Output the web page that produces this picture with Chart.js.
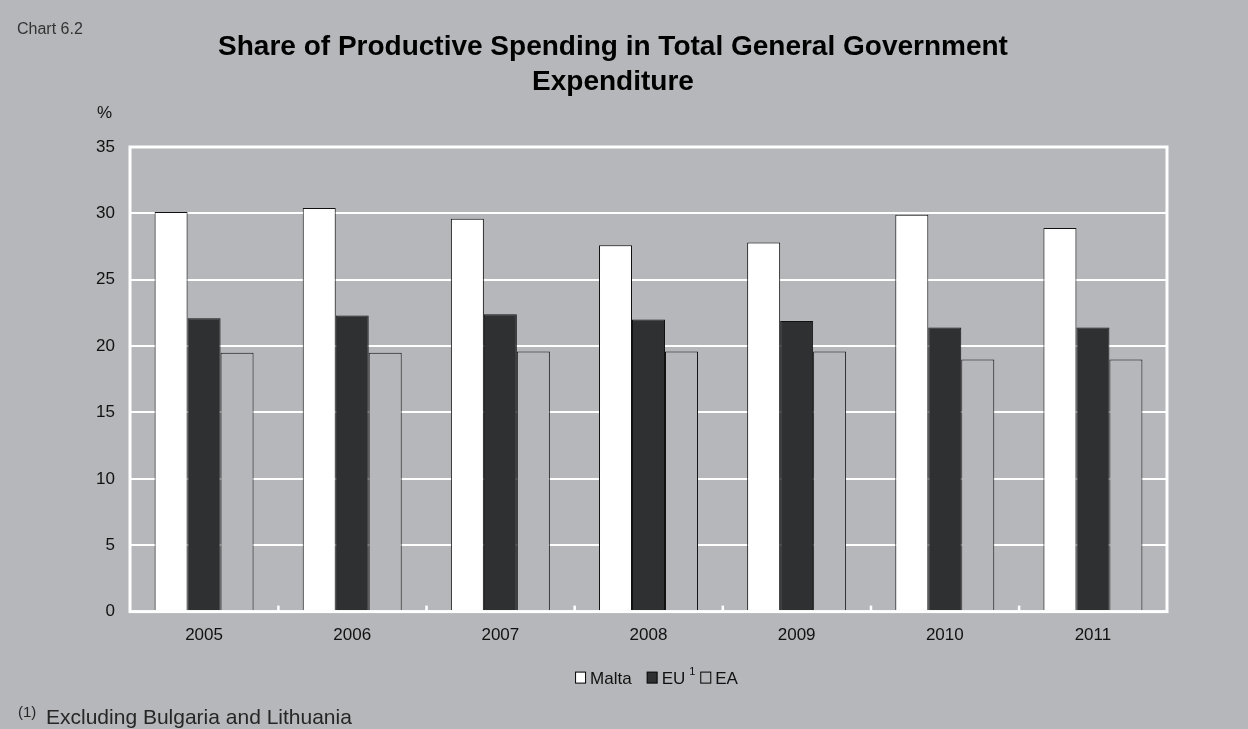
<!DOCTYPE html>
<html>
<head>
<meta charset="utf-8">
<title>Share of Productive Spending in Total General Government Expenditure</title>
<script src="https://cdn.jsdelivr.net/npm/chart.js@4/dist/chart.umd.min.js"></script>
<style>
  html, body { margin: 0; padding: 0; background: #b6b7ba; }
  #wrap { width: 1248px; height: 729px; }
</style>
</head>
<body>
<div id="wrap"><canvas id="chart" width="1248" height="729"></canvas></div>
<script>
// categories and series (% of total general government expenditure)
const years = ['2005', '2006', '2007', '2008', '2009', '2010', '2011'];
const malta = [30.1, 30.4, 29.6, 27.6, 27.8, 29.9, 28.9];
const eu    = [22.1, 22.3, 22.4, 22.0, 21.9, 21.4, 21.4];
const ea    = [19.5, 19.5, 19.6, 19.6, 19.6, 19.0, 19.0];
const yTicks = [0, 5, 10, 15, 20, 25, 30, 35];

const FONT = "'Liberation Sans', Arial, Helvetica, sans-serif";
const BG = '#b6b7ba';

Chart.defaults.font.family = FONT;
Chart.defaults.color = '#111';

// grey page fill behind everything
const pageFill = {
  id: 'pageFill',
  beforeDraw(chart) {
    const c = chart.ctx;
    c.save();
    c.fillStyle = BG;
    c.fillRect(0, 0, chart.width, chart.height);
    c.restore();
  }
};

// white frame round the plot plus small ticks between year groups
const plotFrame = {
  id: 'plotFrame',
  afterDatasetsDraw(chart) {
    const c = chart.ctx, a = chart.chartArea, xs = chart.scales.x;
    c.save();
    c.strokeStyle = '#fff';
    c.lineWidth = 3;
    c.strokeRect(a.left, a.top, a.right - a.left, a.bottom - a.top);
    c.fillStyle = '#fff';
    for (let i = 0; i < years.length - 1; i++) {
      const x = (xs.getPixelForTick(i) + xs.getPixelForTick(i + 1)) / 2;
      c.fillRect(x - 1, a.bottom - 6, 2.5, 6);
    }
    c.restore();
  }
};

// chart number, unit, legend and footnote
const extras = {
  id: 'extras',
  afterDraw(chart) {
    const c = chart.ctx, a = chart.chartArea;
    c.save();
    c.textBaseline = 'alphabetic';
    c.textAlign = 'left';

    c.fillStyle = '#333';
    c.font = '16px ' + FONT;
    c.fillText('Chart 6.2', 17, 34);

    c.fillStyle = '#111';
    c.font = '17px ' + FONT;
    c.fillText('%', 97, 118);

    // legend
    c.font = '17px ' + FONT;
    const items = chart.data.datasets.map(ds => ({ ds, w: 11 + 4 + c.measureText(ds.label).width }));
    const gap = 15;
    const total = items.reduce((s, it) => s + it.w, 0) + gap * (items.length - 1);
    let x = (a.left + a.right) / 2 + 8 - total / 2;
    const by = a.bottom + 66;
    items.forEach(it => {
      c.fillStyle = it.ds.backgroundColor;
      c.fillRect(x + 0.5, by - 5.5, 10, 11);
      c.strokeStyle = '#000';
      c.lineWidth = 1;
      c.strokeRect(x + 0.5, by - 5.5, 10, 11);
      c.fillStyle = '#111';
      c.font = '17px ' + FONT;
      c.fillText(it.ds.label, x + 15, by + 6);
      if (it.ds.sup) {
        const tw = c.measureText(it.ds.label).width;
        c.font = '11px ' + FONT;
        c.fillText(it.ds.sup, x + 15 + tw + 4, by - 3);
      }
      x += it.w + gap;
    });

    // footnote
    c.fillStyle = '#262626';
    c.font = '15px ' + FONT;
    c.fillText('(1)', 18, 717);
    c.font = '21px ' + FONT;
    c.fillText('Excluding Bulgaria and Lithuania', 46, 724);
    c.restore();
  }
};

new Chart(document.getElementById('chart'), {
  type: 'bar',
  data: {
    labels: years,
    datasets: [
      { label: 'Malta', data: malta, backgroundColor: '#ffffff', borderColor: '#111', borderWidth: 1 },
      { label: 'EU', sup: '1', data: eu, backgroundColor: '#2f3032', borderColor: '#111', borderWidth: 1 },
      { label: 'EA', data: ea, backgroundColor: BG, borderColor: '#111', borderWidth: 1 }
    ]
  },
  options: {
    responsive: false,
    animation: false,
    layout: { padding: { left: 59, right: 81, top: 0, bottom: 69 } },
    datasets: { bar: { categoryPercentage: 0.668, barPercentage: 1.0 } },
    plugins: {
      legend: { display: false },
      tooltip: { enabled: false },
      title: {
        display: true,
        text: ['Share of Productive Spending in Total General Government', 'Expenditure'],
        color: '#000',
        font: { size: 28, weight: 'bold', lineHeight: 1.25 },
        padding: { top: 30, bottom: 47 }
      }
    },
    scales: {
      x: {
        grid: { display: false, drawTicks: false },
        border: { display: false },
        ticks: { font: { size: 17 }, color: '#111', padding: 14 }
      },
      y: {
        min: 0,
        max: 35,
        afterBuildTicks: s => { s.ticks = yTicks.map(v => ({ value: v })); },
        afterFit: s => { s.width = 71; },
        grid: { color: '#ffffff', lineWidth: 2, drawTicks: false },
        border: { display: false },
        ticks: { font: { size: 17 }, color: '#111', padding: 15 }
      }
    }
  },
  plugins: [pageFill, plotFrame, extras]
});
</script>
</body>
</html>
